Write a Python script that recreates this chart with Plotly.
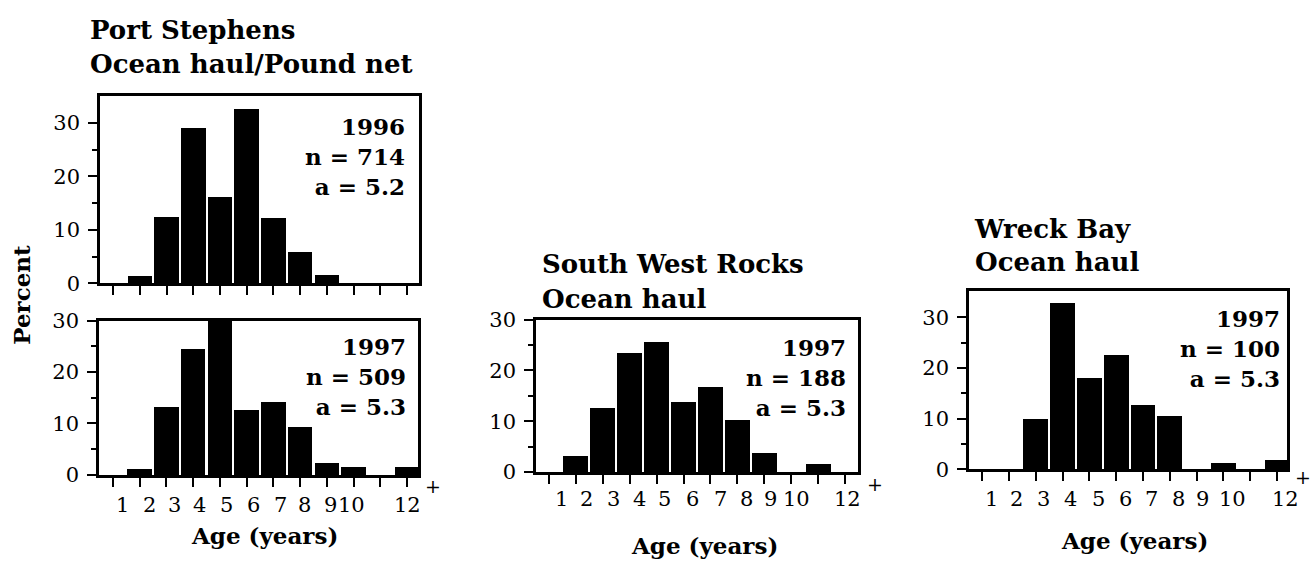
import plotly.graph_objects as go

# ---------------- data ----------------
ages = [1, 2, 3, 4, 5, 6, 7, 8, 9, 10, 11, 12]
age_labels = ["1", "2", "3", "4", "5", "6", "7", "8", "9", "10", "", "12"]

port_stephens_1996 = [0, 1.3, 12.3, 29.0, 16.0, 32.5, 12.1, 5.8, 1.5, 0, 0, 0]
port_stephens_1997 = [0, 1.3, 13.2, 24.5, 30.4, 12.7, 14.2, 9.4, 2.4, 1.6, 0, 1.6]
south_west_rocks_1997 = [0, 3.3, 12.6, 23.6, 25.6, 13.8, 16.8, 10.3, 3.9, 0, 1.6, 0]
wreck_bay_1997 = [0, 0, 9.9, 32.9, 18.0, 22.5, 12.6, 10.6, 0, 1.3, 0, 1.8]

titles = [["Port Stephens", "Ocean haul/Pound net"], None,
          ["South West Rocks", "Ocean haul"], ["Wreck Bay", "Ocean haul"]]
stats = ["1996<br>n = 714<br>a = 5.2", "1997<br>n = 509<br>a = 5.3",
         "1997<br>n = 188<br>a = 5.3", "1997<br>n = 100<br>a = 5.3"]
series = [port_stephens_1996, port_stephens_1997, south_west_rocks_1997, wreck_bay_1997]

# ---------------- layout helpers ----------------
W, H = 1313, 577
def px(x):
    return x / W
def py(y):
    return 1 - y / H

SERIF = "DejaVu Serif"
# panel boxes in pixels: left, right, top, bottom
boxes = [(100, 419, 88, 283), (99, 418, 322, 483), (536, 858, 321, 480), (969, 1287, 291, 477)]
xranges = [[0.51, 12.45], [0.48, 12.41], [0.52, 12.48], [0.51, 12.37]]
yranges = [[0, 35], [0, 30], [0, 30], [0, 35.2]]
stat_pos = [(407, 151), (408, 380), (848, 381), (1282, 351)]
label_y = [None, 514, 508, 508]
label_shift = [None,
               [0.37, 0.35, 0.32, 0.25, 0.26, 0.24, 0.25, 0.18, 0.12, -0.06, 0, 0.0],
               [0.47, 0.40, 0.39, 0.38, 0.31, 0.35, 0.36, 0.35, 0.22, 0.20, 0, 0.1],
               [0.36, 0.29, 0.29, 0.31, 0.34, 0.34, 0.33, 0.32, 0.20, 0.32, 0, 0.3]]
plus_pos = [None, (433, 495), (875, 492), (1303, 485)]
age_title_pos = [None, (264, 546), (704, 557), (1134, 551)]
title_pos = [[(88, 19), (88, 54)], None, [(540, 262.5), (540, 299)], [(972, 226), (973, 261)]]

fig = go.Figure()
annotations = []

for i, (vals, box) in enumerate(zip(series, boxes)):
    n = "" if i == 0 else str(i + 1)
    xa, ya = "x" + n, "y" + n
    fig.add_trace(go.Bar(x=ages, y=vals, xaxis=xa, yaxis=ya, width=0.92,
                         marker=dict(color="black", line=dict(width=0)),
                         showlegend=False, hoverinfo="x+y"))
    l, r, t, b = box
    axis_common = dict(showline=True, linecolor="black", linewidth=2.5, mirror=True,
                       showgrid=False, zeroline=False, fixedrange=True)
    fig.update_layout(**{
        "xaxis" + n: dict(domain=[px(l), px(r)], range=xranges[i], anchor=ya,
                          tickmode="array", tickvals=ages, showticklabels=False,
                          ticks="outside", ticklen=9, tickwidth=2, tickcolor="black",
                          **axis_common),
        "yaxis" + n: dict(domain=[py(b), py(t)], range=yranges[i], anchor=xa,
                          tickmode="array", tickvals=[0, 10, 20, 30],
                          ticks="outside", ticklen=9, tickwidth=2, tickcolor="black",
                          ticklabelstandoff=4,
                          tickfont=dict(family=SERIF, size=21, color="black"),
                          minor=dict(tickmode="array", tickvals=[5, 15, 25], ticks="outside",
                                     ticklen=5, tickwidth=2, tickcolor="black"),
                          **axis_common),
    })
    # statistics block
    sx, sy = stat_pos[i]
    annotations.append(dict(x=px(sx), y=py(sy), xref="paper", yref="paper",
                            xanchor="right", yanchor="middle", align="right",
                            text=stats[i], showarrow=False,
                            font=dict(family=SERIF, size=23, color="black", weight="bold")))
    # titles
    if titles[i]:
        for line, (tx, ty) in zip(titles[i], title_pos[i]):
            annotations.append(dict(x=px(tx), y=py(ty), xref="paper", yref="paper",
                                    xanchor="left", yanchor="middle", text=line,
                                    showarrow=False,
                                    font=dict(family=SERIF, size=26, color="black", weight="bold")))
    # age tick labels, axis title and plus sign
    if label_y[i] is not None:
        for a, lab, sh in zip(ages, age_labels, label_shift[i]):
            if lab:
                annotations.append(dict(x=a + sh, y=py(label_y[i]), xref=xa, yref="paper",
                                        xanchor="center", yanchor="middle", text=lab,
                                        showarrow=False,
                                        font=dict(family=SERIF, size=21, color="black")))
        gx, gy = plus_pos[i]
        annotations.append(dict(x=px(gx), y=py(gy), xref="paper", yref="paper",
                                xanchor="center", yanchor="middle", text="+",
                                showarrow=False,
                                font=dict(family=SERIF, size=19, color="black")))
        ax, ay = age_title_pos[i]
        annotations.append(dict(x=px(ax), y=py(ay), xref="paper", yref="paper",
                                xanchor="center", yanchor="middle", text="Age (years)",
                                showarrow=False,
                                font=dict(family=SERIF, size=23, color="black", weight="bold")))

annotations.append(dict(x=px(22), y=py(295), xref="paper", yref="paper",
                        xanchor="center", yanchor="middle", text="Percent", textangle=-90,
                        showarrow=False,
                        font=dict(family=SERIF, size=23, color="black", weight="bold")))

fig.update_layout(width=W, height=H, margin=dict(l=0, r=0, t=0, b=0),
                  paper_bgcolor="white", plot_bgcolor="white", bargap=0,
                  annotations=annotations)

fig.write_html("out.html",
               config={"displayModeBar": False},
               post_script="document.body.style.margin='0';document.body.style.padding='0';"
                           "document.documentElement.style.overflow='hidden';")
